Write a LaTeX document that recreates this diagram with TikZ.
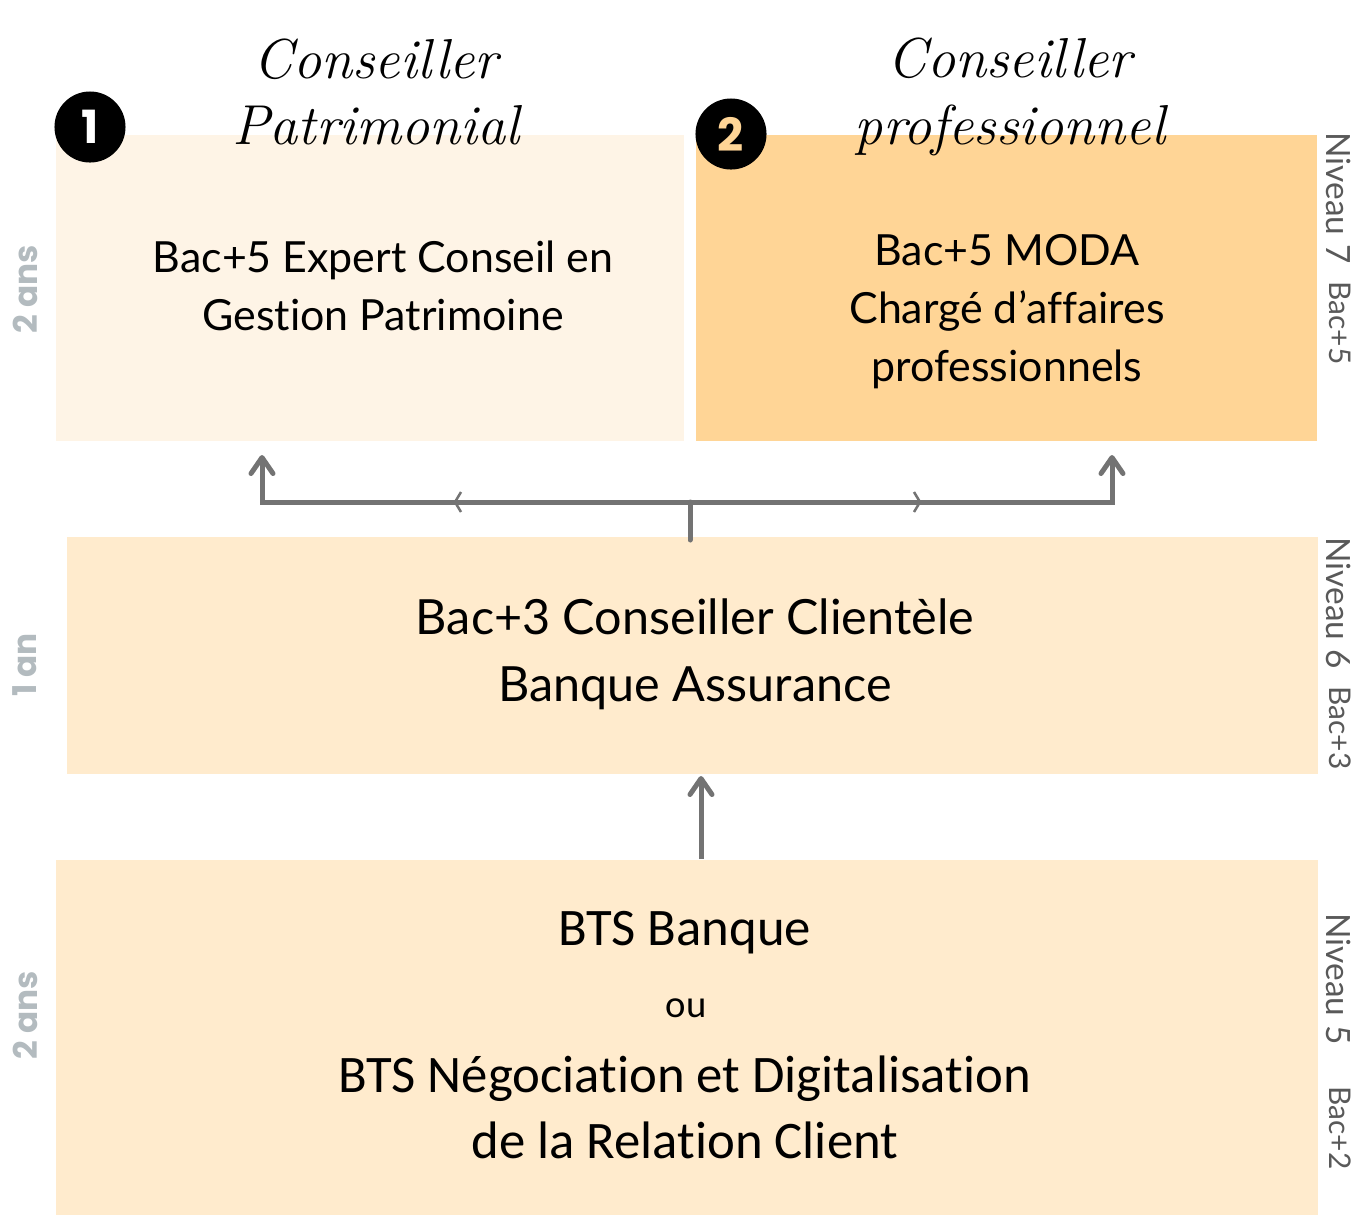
\documentclass[tikz,border=0pt]{standalone}
\usepackage{fontspec}
\newfontfamily\latofont{Lato}[Ligatures=NoCommon]
\newfontfamily\carlitofont{Carlito}[Ligatures=NoCommon]
\newfontfamily\poppinsfont{Poppins}
\usepackage{tikz}
\usetikzlibrary{arrows.meta}
\tikzset{>={Straight Barb[length=1.6mm,width=2.2mm,round]}}
\definecolor{cremeclair}{HTML}{FEF4E6}
\definecolor{orangepale}{HTML}{FFD596}
\definecolor{peche}{HTML}{FFEBCD}
\definecolor{grisfleche}{HTML}{737373}
\definecolor{grisduree}{HTML}{B3BBBF}

\begin{document}
\begin{tikzpicture}[x=0.01cm,y=-0.01cm,
    bloc/.style={anchor=north west,inner sep=0},
    titre/.style={align=center,inner sep=0,font=\fontsize{16}{19}\selectfont\itshape},
    texte/.style={align=center,inner sep=0,font=\latofont\fontsize{12.2}{16.5}\selectfont},
    textebts/.style={align=center,inner sep=0,font=\carlitofont\fontsize{15}{18.8}\selectfont},
    pastille/.style={circle,fill=black,minimum size=0.71cm,inner sep=0,font=\poppinsfont\bfseries\fontsize{13}{13}\selectfont},
    niveau/.style={rotate=-90,inner sep=0,text=black!65,font=\latofont\fontsize{9.5}{10}\selectfont},
    bacniv/.style={niveau,font=\latofont\fontsize{8.5}{9}\selectfont},
    duree/.style={rotate=90,inner sep=0,text=grisduree,font=\poppinsfont\bfseries\fontsize{9.3}{10}\selectfont},
    fleche/.style={draw=grisfleche,line width=0.05cm},
    chevron/.style={draw=grisfleche,line width=0.025cm}]
  \useasboundingbox (0,0) rectangle (1357,1214);

  % blocs
  \node[bloc,fill=cremeclair,minimum width=6.28cm,minimum height=3.06cm] (patri) at (55,134) {};
  \node[bloc,fill=orangepale,minimum width=6.21cm,minimum height=3.06cm] (pro) at (695,134) {};
  \node[bloc,fill=peche,minimum width=12.51cm,minimum height=2.37cm] (clientele) at (66,536) {};
  \node[bloc,fill=peche,minimum width=12.62cm,minimum height=3.55cm] (bts) at (55,859) {};

  % titres
  \node[titre] (titrePatri) at (376,92) {Conseiller\\Patrimonial};
  \node[titre] (titrePro) at (1010,97) {Conseiller\\professionnel};
  \node[pastille,text=white] (num1) at (90,127) {1};
  \node[pastille,text=orangepale] (num2) at (731,134) {2};

  % textes
  \node[texte] (txtPatri) at (383,286) {Bac+5 Expert Conseil en\\Gestion Patrimoine};
  \node[texte] (txtPro) at (1007,312) {Bac+5 MODA\\Chargé d’affaires\\professionnels};
  \node[texte,font=\latofont\fontsize{13.8}{19}\selectfont] (txtClientele) at (695,654) {Bac+3 Conseiller Clientèle\\Banque Assurance};
  \node[textebts] (btsBanque) at (685,933) {BTS Banque};
  \node[textebts,font=\carlitofont\fontsize{11}{13}\selectfont] (ou) at (686,1008) {ou};
  \node[textebts] (btsNdrc) at (685,1107) {BTS Négociation et Digitalisation\\de la Relation Client};

  % niveaux et durees
  \foreach \lvl/\bac/\ya/\yb in {7/5/198/323, 6/3/603/728, 5/2/979/1128} {
    \node[niveau] (niv\lvl) at (1339,\ya) {Niveau \lvl};
    \node[bacniv] (bac\bac) at (1340,\yb) {Bac+\bac};
  }
  \foreach \dur/\y [count=\i] in {2 ans/289, 1 an/665, 2 ans/1015} {
    \node[duree] (duree\i) at (25,\y) {\dur};
  }

  % fleches
  \coordinate (fork) at (690,502);
  \coordinate (versPatri) at (262,455);
  \coordinate (versPro) at (1112,455);
  \coordinate (montee) at (701,776);
  \draw[fleche,line cap=round] ([yshift=-0.04cm]clientele.north -| fork) -- (fork);
  \draw[fleche,->] (fork) -| (versPatri);
  \draw[fleche,->] (fork) -| (versPro);
  \draw[fleche,->] (bts.north -| montee) -- (montee);

  \coordinate (chevG) at (455,502);
  \coordinate (chevD) at (920,502);
  \draw[chevron] ([xshift=0.06cm,yshift=0.1cm]chevG) -- (chevG) -- ([xshift=0.06cm,yshift=-0.1cm]chevG);
  \draw[chevron] ([xshift=-0.06cm,yshift=0.1cm]chevD) -- (chevD) -- ([xshift=-0.06cm,yshift=-0.1cm]chevD);
\end{tikzpicture}
\end{document}
